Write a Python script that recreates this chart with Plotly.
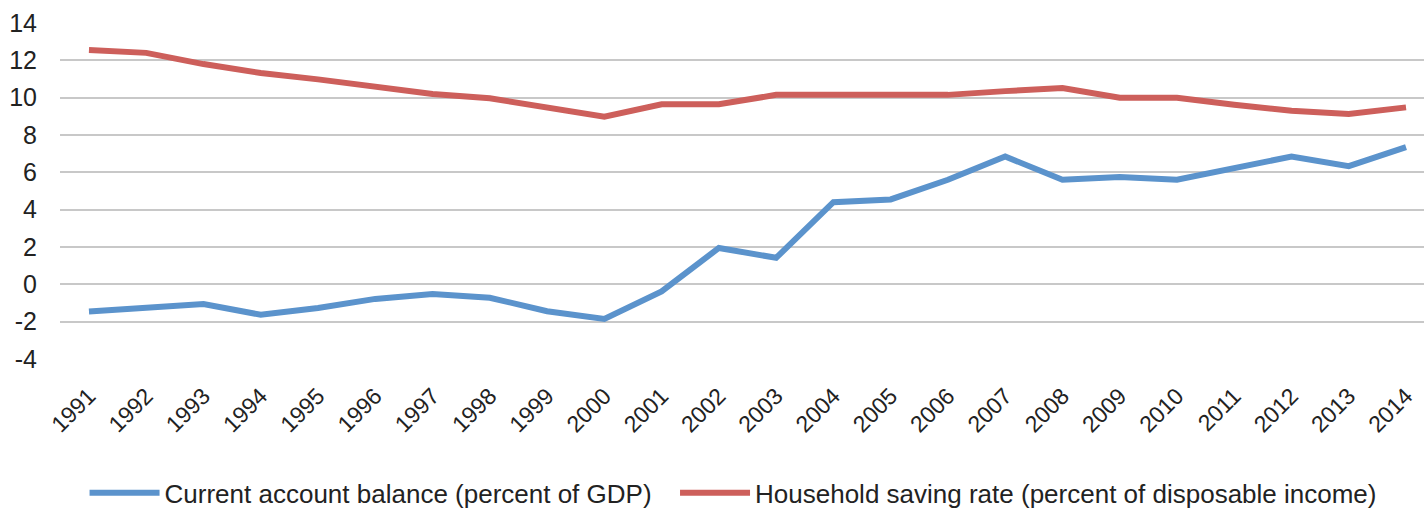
import plotly.graph_objects as go

years = list(range(1991, 2015))
year_labels = [str(y) for y in years]

current_account = [-1.46, -1.25, -1.05, -1.63, -1.27, -0.78, -0.52, -0.72, -1.44, -1.85,
                   -0.38, 1.95, 1.42, 4.4, 4.55, 5.6, 6.85, 5.6, 5.75, 5.6,
                   6.2, 6.85, 6.33, 7.35]
saving_rate = [12.55, 12.4, 11.8, 11.32, 10.98, 10.55, 10.2, 9.97, 9.45, 8.98,
               9.65, 9.65, 10.15, 10.15, 10.15, 10.15, 10.35, 10.52, 10.0, 10.0,
               9.62, 9.3, 9.12, 9.48]

y_ticks = [-4, -2, 0, 2, 4, 6, 8, 10, 12, 14]
y_tick_labels = ["-4", "-2", "0", "2", "4", "6", "8", "10", "12", "14"]

fig = go.Figure()
fig.add_trace(go.Scatter(
    x=years, y=current_account, mode="lines",
    name="Current account balance (percent of GDP)",
    line=dict(color="#5B93CC", width=6),
    legend="legend",
))
fig.add_trace(go.Scatter(
    x=years, y=saving_rate, mode="lines",
    name="Household saving rate (percent of disposable income)",
    line=dict(color="#CD5F5B", width=6),
    legend="legend2",
))

font_family = "Liberation Sans, Arial, sans-serif"
legend_common = dict(
    orientation="h",
    xanchor="left",
    yref="container", y=0.03, yanchor="middle",
    font=dict(size=26, family=font_family, color="#222222"),
    itemwidth=70,
    bgcolor="rgba(0,0,0,0)",
)

fig.update_layout(
    width=1424, height=508,
    margin=dict(l=60, r=0, t=23, b=149),
    paper_bgcolor="white", plot_bgcolor="white",
    font=dict(family=font_family, color="#222222"),
    showlegend=True,
    legend=dict(x=0.018, **legend_common),
    legend2=dict(x=0.4509, **legend_common),
    xaxis=dict(
        range=[1990.494, 2014.314],
        tickvals=years, ticktext=year_labels,
        tickangle=-45,
        tickfont=dict(size=23, family=font_family, color="#222222"),
        showgrid=False, zeroline=False, showline=False,
        ticks="", ticklabelstandoff=18,
    ),
    yaxis=dict(
        range=[-4, 14],
        tickvals=y_ticks, ticktext=y_tick_labels,
        tickfont=dict(size=25, family=font_family, color="#222222"),
        showgrid=True, gridcolor="#C8C8C8", gridwidth=2,
        zeroline=False, showline=False,
        ticks="", ticklabelstandoff=22,
    ),
)

fig.write_html("out.html")
